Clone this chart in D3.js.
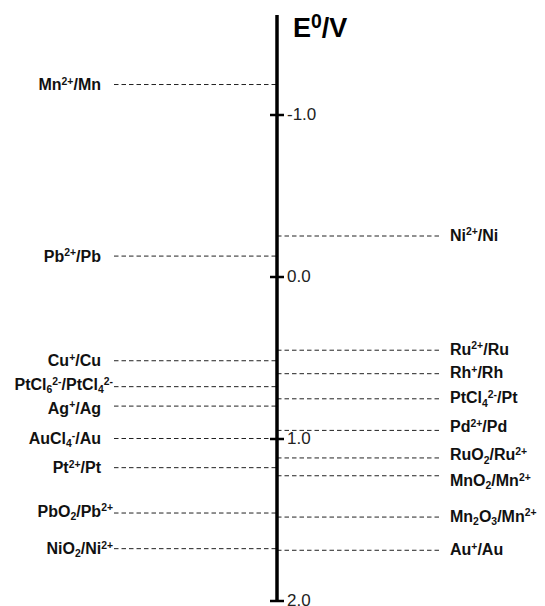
<!DOCTYPE html>
<html>
<head>
<meta charset="utf-8">
<script src="https://cdn.jsdelivr.net/npm/d3@7"></script>
<style>
  html, body { margin: 0; padding: 0; background: #fff; }
  svg { display: block; }
</style>
</head>
<body>
<svg id="chart" width="545" height="606"></svg>
<script>
// Standard electrode potentials (V vs. SHE)
// Couples drawn on the left of the scale
const leftCouples = [
  "Mn^{2+}/Mn", "Pb^{2+}/Pb", "Cu^{+}/Cu", "PtCl_{6}^{2-}/PtCl_{4}^{2-}",
  "Ag^{+}/Ag", "AuCl_{4}^{-}/Au", "Pt^{2+}/Pt", "PbO_{2}/Pb^{2+}", "NiO_{2}/Ni^{2+}"
];
const leftPotentials = [-1.185, -0.126, 0.52, 0.68, 0.80, 1.00, 1.18, 1.46, 1.68];

// Couples drawn on the right of the scale
const rightCouples = [
  "Ni^{2+}/Ni", "Ru^{2+}/Ru", "Rh^{+}/Rh", "PtCl_{4}^{2-}/Pt", "Pd^{2+}/Pd",
  "RuO_{2}/Ru^{2+}", "MnO_{2}/Mn^{2+}", "Mn_{2}O_{3}/Mn^{2+}", "Au^{+}/Au"
];
const rightPotentials = [-0.25, 0.455, 0.60, 0.755, 0.95, 1.12, 1.23, 1.485, 1.69];

// Axis ticks
const tickValues = [-1.0, 0.0, 1.0, 2.0];
const tickLabels = ["-1.0", "0.0", "1.0", "2.0"];

const svg = d3.select("#chart");
const axisX = 277;
const fontFamily = "'Liberation Sans', Arial, sans-serif";

const y = d3.scaleLinear().domain([-1, 2]).range([114.5, 600.5]);

// Vertical nudges (px) that keep crowded labels apart
const labelNudge = {
  "PtCl_{6}^{2-}/PtCl_{4}^{2-}": -2,
  "Ag^{+}/Ag": 2,
  "PbO_{2}/Pb^{2+}": -2,
  "Pd^{2+}/Pd": -3,
  "RuO_{2}/Ru^{2+}": -2,
  "MnO_{2}/Mn^{2+}": 6
};

// Split "Mn^{2+}/Mn" style strings into plain / sub / sup runs
function parseRuns(s) {
  const runs = [];
  const re = /([_^])\{([^}]*)\}|([^_^]+)/g;
  let m;
  while ((m = re.exec(s)) !== null) {
    if (m[3]) runs.push({ t: m[3], k: "n" });
    else runs.push({ t: m[2], k: m[1] === "^" ? "sup" : "sub" });
  }
  return runs;
}

function richText(sel, str, size, small = 0.65) {
  const runs = parseRuns(str);
  let shift = 0;
  runs.forEach(r => {
    const target = r.k === "sup" ? -0.33 * size : r.k === "sub" ? 0.2 * size : 0;
    sel.append("tspan")
      .attr("dy", target - shift)
      .attr("font-size", r.k === "n" ? size : size * small)
      .text(r.t);
    shift = target;
  });
}

const labelSize = 16;

// Left dashed lines and labels
const left = svg.append("g").attr("class", "left");
leftCouples.forEach((c, i) => {
  const yy = y(leftPotentials[i]);
  left.append("line")
    .attr("x1", 114).attr("x2", axisX)
    .attr("y1", yy).attr("y2", yy)
    .attr("stroke", "#222").attr("stroke-width", 1)
    .attr("stroke-dasharray", "4.5,3");
  const endsSup = /\^\{[^}]*\}$/.test(c);
  const t = left.append("text")
    .attr("x", endsSup ? 113 : 101)
    .attr("y", yy + 5.5 + (labelNudge[c] || 0))
    .attr("text-anchor", "end")
    .attr("font-family", fontFamily)
    .attr("font-weight", "bold")
    .attr("fill", "#111");
  richText(t, c, labelSize);
});

// Right dashed lines and labels
const right = svg.append("g").attr("class", "right");
rightCouples.forEach((c, i) => {
  const yy = y(rightPotentials[i]);
  right.append("line")
    .attr("x1", axisX).attr("x2", 440)
    .attr("y1", yy).attr("y2", yy)
    .attr("stroke", "#222").attr("stroke-width", 1)
    .attr("stroke-dasharray", "4.5,3");
  const t = right.append("text")
    .attr("x", 450)
    .attr("y", yy + 4.5 + (labelNudge[c] || 0))
    .attr("text-anchor", "start")
    .attr("font-family", fontFamily)
    .attr("font-weight", "bold")
    .attr("fill", "#111");
  richText(t, c, labelSize);
});

// Potential scale
svg.append("line")
  .attr("x1", axisX).attr("x2", axisX)
  .attr("y1", 15).attr("y2", y(2))
  .attr("stroke", "#000").attr("stroke-width", 3.5);

const axis = d3.axisRight(y)
  .tickValues(tickValues)
  .tickFormat((d, i) => tickLabels[i])
  .tickSize(7)
  .tickPadding(6);

const ag = svg.append("g")
  .attr("transform", `translate(${axisX},0)`)
  .call(axis);
ag.select(".domain").remove();
ag.selectAll(".tick line")
  .attr("x1", -7).attr("x2", 7)
  .attr("stroke", "#000").attr("stroke-width", 2.5);
ag.selectAll(".tick text")
  .attr("x", 10)
  .attr("font-family", fontFamily)
  .attr("font-size", 17)
  .attr("fill", "#222");

// Axis title E0/V
const title = svg.append("text")
  .attr("x", 293).attr("y", 37)
  .attr("font-family", fontFamily)
  .attr("font-weight", "bold")
  .attr("fill", "#000");
richText(title, "E^{0}/V", 27, 0.72);
</script>
</body>
</html>
